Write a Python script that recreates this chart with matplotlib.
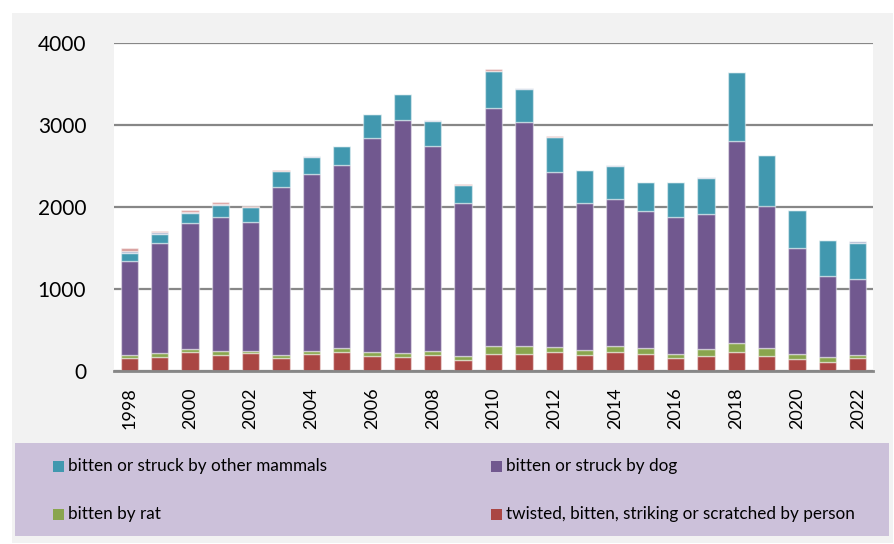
import matplotlib
matplotlib.use("Agg")
import matplotlib.pyplot as plt
from matplotlib.patches import Rectangle
import numpy as np

years = list(range(1998, 2023))
person = [160, 175, 235, 200, 223, 162, 211, 235, 180, 167, 199, 138, 211, 211, 235, 195, 232, 211, 154, 187, 228, 187, 146, 114, 154]
rat = [40, 40, 33, 45, 21, 33, 33, 45, 48, 53, 45, 45, 98, 89, 58, 61, 68, 65, 53, 81, 113, 98, 61, 53, 41]
dog = [1140, 1350, 1540, 1637, 1577, 2045, 2158, 2228, 2613, 2841, 2504, 1867, 2894, 2740, 2134, 1793, 1801, 1679, 1675, 1643, 2464, 1731, 1297, 996, 927]
other_mammals = [100, 110, 115, 143, 180, 200, 210, 230, 289, 313, 305, 218, 455, 402, 428, 402, 400, 350, 420, 443, 841, 618, 460, 435, 443]
extra_a = [20, 25, 10, 10, 0, 0, 10, 0, 10, 8, 8, 0, 0, 15, 0, 0, 8, 5, 8, 8, 0, 0, 5, 0, 15]
extra_b = [40, 8, 30, 30, 8, 15, 0, 10, 0, 0, 0, 10, 20, 0, 15, 0, 0, 0, 0, 0, 0, 0, 0, 0, 0]

labels_legend = ["bitten or struck by other mammals", "bitten or struck by dog",
                 "bitten by rat", "twisted, bitten, striking or scratched by person"]

c_red = "#AA4643"
c_green = "#89A54E"
c_purple = "#71588F"
c_teal = "#4198AF"
c_lb = "#A9B4CF"
c_pink = "#D79A98"

W, H = 895, 544
fig = plt.figure(figsize=(W / 100, H / 100), dpi=100)
fig.patch.set_facecolor("white")

def fx(x):
    return x / W

def fy(y):
    return 1 - y / H

# outer gray panel
fig.patches.append(Rectangle((fx(12), fy(543)), fx(893) - fx(12), fy(13) - fy(543),
                             transform=fig.transFigure, facecolor="#F2F2F2",
                             edgecolor="none", zorder=-2))
# legend panel
fig.patches.append(Rectangle((fx(15), fy(536)), fx(889) - fx(15), fy(443) - fy(536),
                             transform=fig.transFigure, facecolor="#CCC1DA",
                             edgecolor="none", zorder=-1))

ax = fig.add_axes([fx(114), fy(371), fx(873) - fx(114), fy(43) - fy(371)])
ax.set_zorder(3)
ax.set_facecolor("white")

x = np.arange(len(years))
w = 0.57
edge = (1, 1, 1, 0.45)
bottom = np.zeros(len(years))
series = [(person, c_red), (rat, c_green), (dog, c_purple), (other_mammals, c_teal),
          (extra_a, c_lb), (extra_b, c_pink)]
for vals, col in series:
    v = np.array(vals, dtype=float)
    ax.bar(x, v, w, bottom=bottom, color=col, edgecolor=edge, linewidth=1.0, zorder=3)
    bottom += v

ax.set_xlim(-0.5, len(years) - 0.5)
ax.set_ylim(0, 4000)
ax.set_yticks([0, 1000, 2000, 3000, 4000])
ax.yaxis.grid(True, color="#878787", linewidth=1.6, zorder=1)
ax.set_axisbelow(True)
for s in ["top", "right", "left"]:
    ax.spines[s].set_visible(False)
ax.spines["bottom"].set_color("#878787")
ax.spines["bottom"].set_linewidth(2.0)
ax.spines["bottom"].set_zorder(4)

xt = [i for i, yv in enumerate(years) if yv % 2 == 0]
ax.set_xticks(xt)
ax.set_xticklabels([str(years[i]) for i in xt], rotation=90, fontfamily="Lato", fontsize=13)
ax.tick_params(axis="x", length=0, pad=12)
ax.tick_params(axis="y", length=0, pad=20, labelsize=15)
for t in ax.get_yticklabels():
    t.set_fontfamily("Lato")

# legend entries
leg_items = [
    (53, 466, c_teal, labels_legend[0]),
    (491, 466, c_purple, labels_legend[1]),
    (53, 514, c_green, labels_legend[2]),
    (491, 514, c_red, labels_legend[3]),
]
for lx, ly, col, txt in leg_items:
    fig.patches.append(Rectangle((fx(lx), fy(ly + 6)), fx(11), 11 / H,
                                 transform=fig.transFigure, facecolor=col,
                                 edgecolor="none", zorder=2))
    fig.text(fx(lx + 15), fy(ly), txt, fontfamily="Lato", fontsize=12.3,
             va="center", ha="left", color="black", zorder=3)

fig.savefig("out.png", dpi=100)
